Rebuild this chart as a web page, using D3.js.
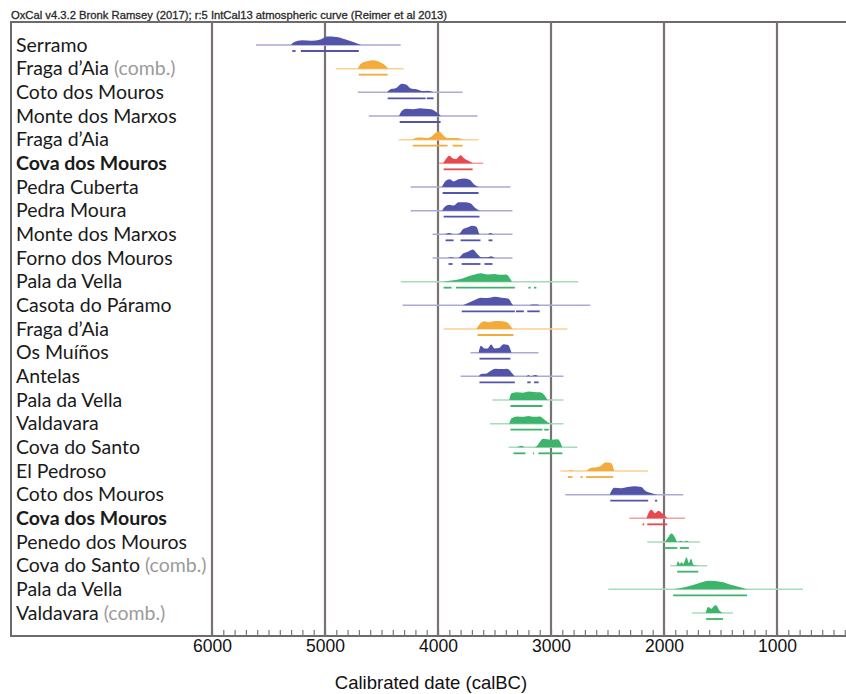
<!DOCTYPE html>
<html>
<head>
<meta charset="utf-8">
<script src="https://cdn.jsdelivr.net/npm/d3@7/dist/d3.min.js"></script>
<style>
  body { margin: 0; background: #fff; }
  svg { display: block; }
</style>
</head>
<body>
<div id="viz"></div>
<script>
// ---- data (years BC) ----
var sites = [
  'Serramo', 'Fraga d\u2019Aia', 'Coto dos Mouros', 'Monte dos Marxos', 'Fraga d\u2019Aia',
  'Cova dos Mouros', 'Pedra Cuberta', 'Pedra Moura', 'Monte dos Marxos', 'Forno dos Mouros',
  'Pala da Vella', 'Casota do P\u00e1ramo', 'Fraga d\u2019Aia', 'Os Mu\u00ed\u00f1os', 'Antelas',
  'Pala da Vella', 'Valdavara', 'Cova do Santo', 'El Pedroso', 'Coto dos Mouros',
  'Cova dos Mouros', 'Penedo dos Mouros', 'Cova do Santo', 'Pala da Vella', 'Valdavara'
];
var combined = [1, 22, 24];
var highlighted = [5, 20];
var groups = [
  'blue', 'orange', 'blue', 'blue', 'orange',
  'red', 'blue', 'blue', 'blue', 'blue',
  'green', 'blue', 'orange', 'blue', 'blue',
  'green', 'green', 'green', 'orange', 'blue',
  'red', 'green', 'green', 'green', 'green'
];

// unmodelled (likelihood) span, drawn as the thin line
var priorRanges = [
  [5611, 4330], [4905, 4304], [4710, 3783], [4613, 3650], [4348, 3641],
  [3990, 3600], [4242, 3359], [4242, 3341], [4048, 3341], [4048, 3341],
  [4330, 2758], [4313, 2652], [3950, 2855], [3712, 3111], [3800, 2890],
  [3518, 2890], [3540, 2890], [3376, 2767], [2917, 2140], [2873, 1830],
  [2307, 1813], [2148, 1680], [1945, 1618], [2493, 770], [1751, 1389]
];

// modelled distributions: [year, relative height]
var densities = [
  [[5300, 0], [5280, 0.3], [5200, 0.55], [5120, 0.5], [5040, 0.65], [4980, 1], [4900, 0.95], [4830, 0.7], [4750, 0.35], [4680, 0]],
  [[4710, 0], [4680, 0.6], [4620, 0.9], [4570, 1], [4520, 0.8], [4470, 0.4], [4440, 0]],
  [[4450, 0], [4420, 0.35], [4370, 0.5], [4320, 1], [4280, 0.9], [4240, 0.45], [4190, 0.35], [4140, 0.15], [4090, 0.2], [4040, 0]],
  [[4345, 0], [4320, 0.6], [4280, 0.85], [4220, 0.8], [4160, 0.9], [4110, 0.85], [4060, 0.8], [4010, 0.4], [3975, 0]],
  [[4230, 0], [4200, 0.2], [4150, 0.25], [4100, 0.2], [4060, 0.35], [4020, 0.8], [3990, 1], [3960, 0.6], [3920, 0.2], [3880, 0.2], [3830, 0.2], [3780, 0]],
  [[3955, 0], [3930, 0.5], [3900, 0.9], [3870, 0.6], [3840, 0.5], [3800, 0.95], [3770, 0.6], [3730, 0.3], [3690, 0]],
  [[3965, 0], [3940, 0.6], [3900, 0.9], [3860, 0.65], [3820, 0.9], [3770, 1], [3720, 0.85], [3680, 0.3], [3640, 0]],
  [[3965, 0], [3940, 0.45], [3900, 0.7], [3860, 0.6], [3820, 1], [3760, 1], [3710, 0.85], [3670, 0.3], [3630, 0]],
  [[3940, 0], [3900, 0.15], [3860, 0], [3810, 0.1], [3780, 0.6], [3740, 0.8], [3700, 1], [3660, 0.9], [3630, 0], [3560, 0], [3540, 0.15], [3510, 0]],
  [[3920, 0], [3880, 0.1], [3840, 0], [3810, 0.1], [3780, 0.5], [3740, 0.7], [3690, 1], [3660, 0.6], [3620, 0.1], [3560, 0.1], [3530, 0.2], [3500, 0]],
  [[3960, 0], [3900, 0.1], [3820, 0.25], [3760, 0.5], [3700, 0.75], [3620, 1], [3560, 0.85], [3500, 0.9], [3450, 0.8], [3400, 0.85], [3345, 0]],
  [[3780, 0], [3730, 0.3], [3680, 0.6], [3620, 0.9], [3560, 0.85], [3500, 1], [3440, 0.9], [3380, 0.8], [3330, 0], [3200, 0], [3170, 0.1], [3120, 0.1], [3100, 0]],
  [[3660, 0], [3630, 0.6], [3590, 0.9], [3550, 0.8], [3510, 0.9], [3460, 0.95], [3400, 0.85], [3340, 0]],
  [[3640, 0], [3620, 0.8], [3590, 0.5], [3560, 0.5], [3530, 0.95], [3500, 0.5], [3460, 0.55], [3420, 1], [3380, 0.9], [3350, 0]],
  [[3640, 0], [3610, 0.3], [3580, 0.3], [3530, 0.7], [3490, 0.9], [3440, 0.85], [3390, 0.9], [3340, 0.3], [3320, 0], [3220, 0], [3200, 0.15], [3180, 0], [3140, 0.15], [3110, 0]],
  [[3370, 0], [3350, 0.8], [3300, 0.9], [3250, 0.85], [3200, 1], [3150, 0.95], [3100, 0.9], [3060, 0.6], [3030, 0]],
  [[3370, 0], [3350, 0.6], [3300, 0.85], [3250, 0.8], [3200, 0.9], [3150, 0.8], [3100, 0.85], [3060, 0.5], [3020, 0.1], [3000, 0]],
  [[3300, 0], [3260, 0.2], [3230, 0], [3160, 0], [3130, 0.1], [3100, 0.6], [3070, 1], [3000, 0.9], [2940, 0.95], [2900, 0]],
  [[2850, 0], [2820, 0.1], [2790, 0], [2690, 0], [2660, 0.3], [2620, 0.4], [2560, 0.6], [2520, 1], [2470, 0.95], [2440, 0]],
  [[2480, 0], [2440, 0.8], [2380, 0.75], [2320, 0.9], [2260, 1], [2200, 0.9], [2160, 0.4], [2100, 0.15], [2060, 0]],
  [[2155, 0], [2130, 0.8], [2110, 1], [2080, 0.6], [2050, 0.9], [2010, 0.5], [1970, 0]],
  [[1990, 0], [1965, 0.5], [1935, 1], [1905, 0.6], [1880, 0], [1850, 0.15], [1830, 0], [1800, 0.15], [1780, 0]],
  [[1890, 0], [1875, 0.5], [1860, 0.2], [1845, 0.4], [1830, 0.2], [1800, 1], [1780, 0.3], [1760, 0.8], [1740, 0.1], [1700, 0]],
  [[1920, 0], [1800, 0.3], [1700, 0.7], [1600, 1], [1500, 0.9], [1400, 0.5], [1300, 0.15], [1260, 0]],
  [[1630, 0], [1610, 0.7], [1580, 0.5], [1560, 0.8], [1540, 0.9], [1510, 0.3], [1480, 0]]
];

// 95.4% highest posterior density ranges
var hpdRanges = [
  [[5290, 5260], [5214, 4701]],
  [[4701, 4445]],
  [[4445, 4110], [4100, 4039]],
  [[4339, 3977]],
  [[4224, 3915], [3871, 3783]],
  [[3950, 3694]],
  [[3959, 3641]],
  [[3950, 3633]],
  [[3933, 3862], [3800, 3624], [3553, 3518]],
  [[3907, 3871], [3791, 3624], [3589, 3518]],
  [[3950, 3880], [3840, 3320], [3200, 3180], [3150, 3130]],
  [[3790, 3320], [3310, 3240], [3210, 3100]],
  [[3650, 3332]],
  [[3633, 3359]],
  [[3633, 3320], [3210, 3180], [3150, 3110]],
  [[3359, 3076]],
  [[3359, 3076], [3060, 3020]],
  [[3332, 3226], [3160, 3150], [3111, 2899]],
  [[2850, 2810], [2740, 2720], [2690, 2450]],
  [[2475, 2140], [2080, 2060]],
  [[2190, 2175], [2148, 1972]],
  [[2000, 1883], [1860, 1780]],
  [[1883, 1697]],
  [[1919, 1265]],
  [[1627, 1477]]
];

var majorTicks = [6000, 5000, 4000, 3000, 2000, 1000];
var header = 'OxCal v4.3.2 Bronk Ramsey (2017); r:5 IntCal13 atmospheric curve (Reimer et al 2013)';
var axisTitle = 'Calibrated date (calBC)';

// ---- layout ----
var width = 846;
var height = 694;
var frame = { left: 11, top: 22, right: 850, bottom: 636 };

var fillColor = { blue: '#5254aa', orange: '#f3ab3b', red: '#e8484e', green: '#3cb46b' };
var lineColor = { blue: '#a9aad6', orange: '#f8d194', red: '#f2a0a2', green: '#a6dcba' };

var x = d3.scaleLinear().domain([6000, 1000]).range([212, 777]);
var y = d3.scalePoint().domain(d3.range(sites.length)).range([45, 613]);
var h = d3.scaleLinear().domain([0, 1]).range([0, 8.5]);

var svg = d3.select('#viz').append('svg')
  .attr('width', width)
  .attr('height', height);

svg.append('rect').attr('width', width).attr('height', height).attr('fill', '#fff');

// header line above the frame (the frame's top edge underlines it)
svg.append('text')
  .attr('x', 11)
  .attr('y', 19)
  .attr('font-family', 'Liberation Sans, Arial, sans-serif')
  .attr('font-size', 11)
  .attr('textLength', 436)
  .attr('lengthAdjust', 'spacingAndGlyphs')
  .attr('fill', '#2a2a2a')
  .attr('stroke', '#2a2a2a')
  .attr('stroke-width', 0.3)
  .text(header);

// frame
svg.append('path')
  .attr('d', 'M' + frame.right + ',' + frame.top + 'H' + frame.left + 'V' + frame.bottom + 'H' + frame.right)
  .attr('fill', 'none')
  .attr('stroke', '#6f6a6a')
  .attr('stroke-width', 2);

// vertical grid at the thousands
svg.append('g').selectAll('line')
  .data(majorTicks)
  .join('line')
  .attr('x1', function (d) { return x(d); })
  .attr('x2', function (d) { return x(d); })
  .attr('y1', frame.top)
  .attr('y2', frame.bottom)
  .attr('stroke', '#7a7272')
  .attr('stroke-width', 2.2);

// minor ticks every century, pointing up
var minor = d3.range(6000, 350, -100);
svg.append('g')
  .attr('transform', 'translate(0,' + frame.bottom + ')')
  .call(d3.axisTop(x).tickValues(minor).tickSize(6).tickFormat(''))
  .call(function (g) {
    g.select('.domain').remove();
    g.selectAll('line').attr('stroke', '#7a7474').attr('stroke-width', 1.2);
  });

// tick labels
svg.append('g')
  .attr('transform', 'translate(0,' + frame.bottom + ')')
  .call(d3.axisBottom(x).tickValues(majorTicks).tickSize(0).tickPadding(4).tickFormat(d3.format('d')))
  .call(function (g) {
    g.select('.domain').remove();
    g.selectAll('text')
      .attr('font-family', 'Liberation Sans, Arial, sans-serif')
      .attr('font-size', 17.5)
      .attr('fill', '#111');
  });

svg.append('text')
  .attr('x', 431)
  .attr('y', 689)
  .attr('text-anchor', 'middle')
  .attr('font-family', 'Liberation Sans, Arial, sans-serif')
  .attr('font-size', 18.5)
  .attr('fill', '#111')
  .text(axisTitle);

// row labels
var labels = svg.append('g').selectAll('text')
  .data(sites)
  .join('text')
  .attr('x', 16)
  .attr('y', function (d, i) { return y(i) + 6.5; })
  .attr('font-family', 'Lato, sans-serif')
  .attr('font-size', 19.5)
  .attr('font-weight', function (d, i) { return highlighted.indexOf(i) >= 0 ? 'bold' : 'normal'; })
  .attr('fill', '#1a1a1a');

labels.append('tspan').text(function (d) { return d; });
labels.filter(function (d, i) { return combined.indexOf(i) >= 0; })
  .append('tspan')
  .attr('fill', '#9d9a9a')
  .text(' (comb.)');

// distributions
var area = d3.area()
  .curve(d3.curveMonotoneX)
  .x(function (d) { return x(d[0]); })
  .y0(0)
  .y1(function (d) { return -h(d[1]); });

var rows = svg.append('g').selectAll('g')
  .data(sites)
  .join('g')
  .attr('transform', function (d, i) { return 'translate(0,' + y(i) + ')'; });

rows.append('line')
  .attr('x1', function (d, i) { return x(priorRanges[i][0]); })
  .attr('x2', function (d, i) { return x(priorRanges[i][1]); })
  .attr('stroke', function (d, i) { return lineColor[groups[i]]; })
  .attr('stroke-width', 1.5);

rows.append('path')
  .attr('d', function (d, i) { return area(densities[i]); })
  .attr('fill', function (d, i) { return fillColor[groups[i]]; });

rows.each(function (d, i) {
  d3.select(this).selectAll('.hpd')
    .data(hpdRanges[i])
    .join('line')
    .attr('class', 'hpd')
    .attr('x1', function (r) { return x(r[0]); })
    .attr('x2', function (r) { return x(r[1]); })
    .attr('y1', 6)
    .attr('y2', 6)
    .attr('stroke', fillColor[groups[i]])
    .attr('stroke-width', 1.8);
});
</script>
</body>
</html>
